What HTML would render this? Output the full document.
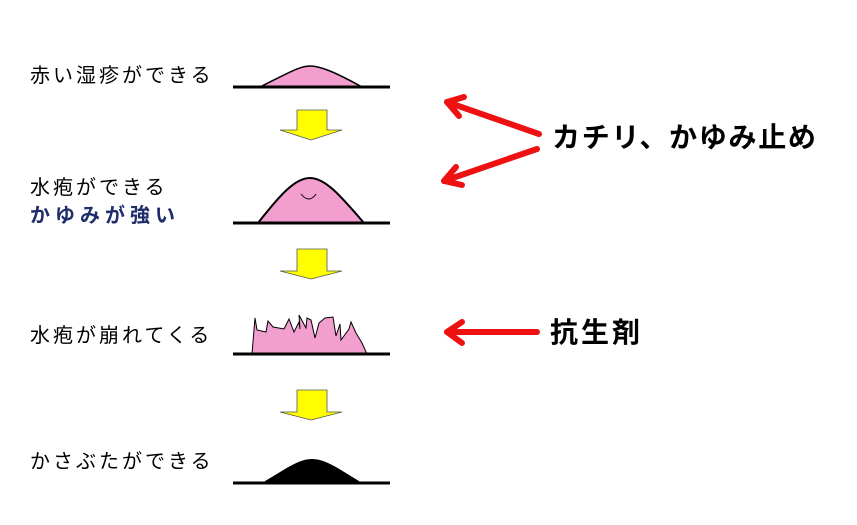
<!DOCTYPE html>
<html><head><meta charset="utf-8"><style>
html,body{margin:0;padding:0;background:#fff;width:857px;height:525px;overflow:hidden}
svg text{font-family:"Liberation Sans","Noto Sans CJK JP",sans-serif}
</style></head><body>
<svg width="857" height="525" viewBox="0 0 857 525" xmlns="http://www.w3.org/2000/svg">
<g font-size="20" fill="#000" letter-spacing="3">
<text x="30" y="82">赤い湿疹ができる</text>
<text x="30" y="194">水疱ができる</text>
<text x="30" y="222" font-weight="bold" fill="#1f2d6b" letter-spacing="5">かゆみが強い</text>
<text x="30" y="342">水疱が崩れてくる</text>
<text x="30" y="468">かさぶたができる</text>
</g>
<!-- bumps -->
<path d="M260,87 C290,72 300,66 310,66 C320,66 335,72 362,87 Z" fill="#f29fd0" stroke="#000" stroke-width="1.5"/>
<path d="M258,223 C280,195 295,178 310,178 C325,178 340,195 364,223 Z" fill="#f29fd0" stroke="#000" stroke-width="2"/>
<path d="M301,194 Q309,204 316,194" fill="none" stroke="#000" stroke-width="1"/>
<path d="M252,354 L255,318 L257,330 L266,332 L268,321 L273,327 L284,329 L289,319 L294,332 L299,322 L300,329 L299,315 L306,328 L307,318 L311,320 L315,338 L319,323 L325,318 L333,317 L336,336 L340,324 L341,340 L349,329 L351,322 L356,333 L362,343 L367,354 Z" fill="#f29fd0" stroke="#000" stroke-width="1"/>
<path d="M262,483 C290,466 300,459 312,459 C324,459 335,466 362,483 Z" fill="#000"/>
<!-- baselines -->
<g stroke="#000" stroke-width="3">
<line x1="233" y1="87" x2="390" y2="87"/>
<line x1="233" y1="223" x2="390" y2="223"/>
<line x1="233" y1="354" x2="390" y2="354"/>
<line x1="233" y1="483" x2="390" y2="483"/>
</g>
<!-- yellow arrows -->
<g fill="#ffff00" stroke="#555" stroke-width="0.8">
<path d="M297,110 H327 V130 H342 L311,140 L280,130 H297 Z"/>
<path d="M297,249 H327 V271 H342 L311,279 L280,271 H297 Z"/>
<path d="M297,390 H327 V412 H342 L311,420 L280,412 H297 Z"/>
</g>
<!-- red arrows -->
<g stroke="#ee1111" stroke-width="6" fill="none" stroke-linecap="round" stroke-linejoin="round">
<line x1="539" y1="134" x2="447" y2="102"/>
<path d="M464,97 L447,102 L459,116"/>
<line x1="537" y1="149" x2="444" y2="181"/>
<path d="M456,167 L444,181 L462,185"/>
<line x1="537" y1="332" x2="447" y2="332"/>
<path d="M462,322 L447,332 L462,343"/>
</g>
<g font-size="28" font-weight="bold" fill="#000" letter-spacing="1.7">
<text x="552" y="147">カチリ、かゆみ止め</text>
<text x="550" y="342" letter-spacing="3">抗生剤</text>
</g>
</svg>
</body></html>
